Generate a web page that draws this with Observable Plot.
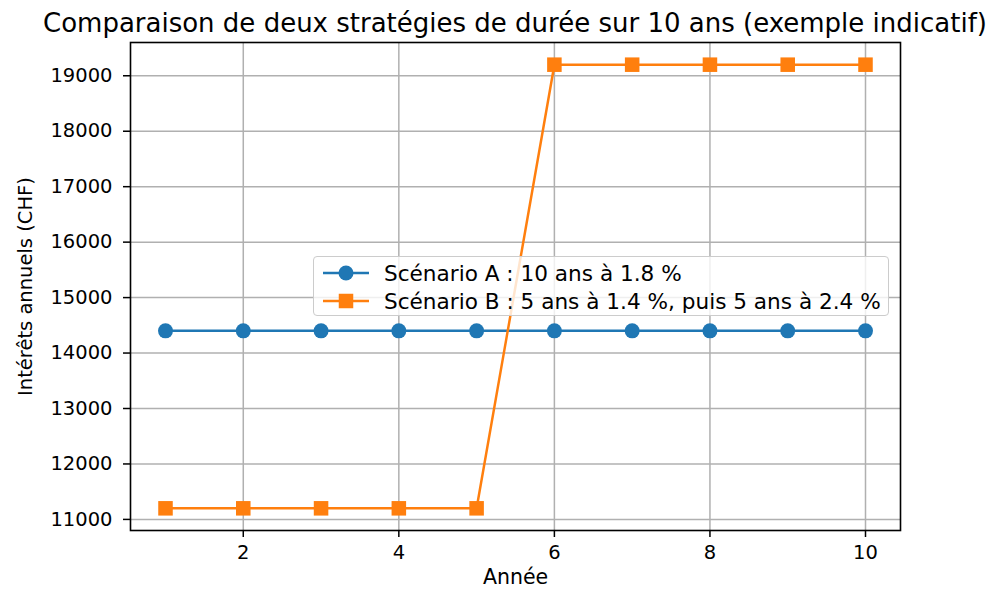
<!DOCTYPE html>
<html>
<head>
<meta charset="utf-8">
<script src="https://cdn.jsdelivr.net/npm/d3@7"></script>
<script src="https://cdn.jsdelivr.net/npm/@observablehq/plot@0.6"></script>
<style>
  html, body { margin: 0; padding: 0; background: white; }
  #wrap { position: relative; width: 1000px; height: 600px; font-family: "DejaVu Sans", sans-serif; color: black; }
  #title { box-sizing: border-box; height: 36px; padding-top: 8px; font-size: 26px; line-height: normal; text-align: center; width: 1030px; white-space: nowrap; overflow: visible; }
  #chart svg { display: block; }
  #legend { position: absolute; left: 313px; top: 256px; width: 576px; height: 60px; box-sizing: border-box;
            background: rgba(255,255,255,0.8); border: 1px solid #cccccc; border-radius: 4px; font-size: 21.6px; }
  .row { position: absolute; left: 8px; height: 28px; display: flex; align-items: center; white-space: nowrap; }
  .row svg { margin-right: 14px; }
</style>
</head>
<body>
<div id="wrap">
  <div id="title">Comparaison de deux stratégies de durée sur 10 ans (exemple indicatif)</div>
  <div id="chart"></div>
  <div id="legend"></div>
</div>
<script>
const years = [1, 2, 3, 4, 5, 6, 7, 8, 9, 10];
const scenarioA = [14400, 14400, 14400, 14400, 14400, 14400, 14400, 14400, 14400, 14400];
const scenarioB = [11200, 11200, 11200, 11200, 11200, 19200, 19200, 19200, 19200, 19200];
const xTicks = [2, 4, 6, 8, 10];
const yTicks = [11000, 12000, 13000, 14000, 15000, 16000, 17000, 18000, 19000];
const seriesNames = ["Scénario A : 10 ans à 1.8 %", "Scénario B : 5 ans à 1.4 %, puis 5 ans à 2.4 %"];
const colors = ["#1f77b4", "#ff7f0e"];
const xLabel = "Année";
const yLabel = "Intérêts annuels (CHF)";

const dataA = years.map((x, i) => ({x, y: scenarioA[i]}));
const dataB = years.map((x, i) => ({x, y: scenarioB[i]}));

const chart = Plot.plot({
  width: 1000,
  height: 564,
  marginTop: 6,
  marginBottom: 70,
  marginLeft: 130,
  marginRight: 100,
  style: {fontFamily: "DejaVu Sans", fontSize: "19px", color: "black", background: "white"},
  x: {domain: [0.55, 10.45]},
  y: {domain: [10800, 19600]},
  marks: [
    Plot.gridX(xTicks, {stroke: "#b0b0b0", strokeOpacity: 1, strokeWidth: 1.5}),
    Plot.gridY(yTicks, {stroke: "#b0b0b0", strokeOpacity: 1, strokeWidth: 1.5}),
    Plot.axisX(xTicks, {tickSize: 7, tickPadding: 8, strokeWidth: 1.5, label: null, fontSize: 19.5}),
    Plot.axisY(yTicks, {tickSize: 7, tickPadding: 11, strokeWidth: 1.5, label: null, fontSize: 19.5, tickFormat: d => String(d)}),
    Plot.line(dataA, {x: "x", y: "y", stroke: colors[0], strokeWidth: 2.5}),
    Plot.dot(dataA, {x: "x", y: "y", r: 7.5, fill: colors[0], stroke: "none"}),
    Plot.line(dataB, {x: "x", y: "y", stroke: colors[1], strokeWidth: 2.5}),
    Plot.dot(dataB, {x: "x", y: "y", r: 8.2, symbol: "square", fill: colors[1], stroke: "none"}),
    Plot.frame({stroke: "black", strokeWidth: 1.6}),
    Plot.text([xLabel], {text: d => d, frameAnchor: "bottom", textAnchor: "middle", dy: 39, lineAnchor: "top", fontSize: 20.5}),
    Plot.text([yLabel], {text: d => d, frameAnchor: "left", textAnchor: "middle", lineAnchor: "middle", dx: -105, rotate: -90, fontSize: 19.5})
  ]
});
document.getElementById("chart").appendChild(chart);

// Legend
const legend = document.getElementById("legend");
seriesNames.forEach((name, i) => {
  const row = document.createElement("div");
  row.className = "row";
  row.style.top = (i === 0 ? 2 : 30) + "px";
  const ns = "http://www.w3.org/2000/svg";
  const sw = document.createElementNS(ns, "svg");
  sw.setAttribute("width", 48);
  sw.setAttribute("height", 20);
  const ln = document.createElementNS(ns, "line");
  ln.setAttribute("x1", 1); ln.setAttribute("x2", 47);
  ln.setAttribute("y1", 10); ln.setAttribute("y2", 10);
  ln.setAttribute("stroke", colors[i]); ln.setAttribute("stroke-width", 2.5);
  sw.appendChild(ln);
  let mk;
  if (i === 0) {
    mk = document.createElementNS(ns, "circle");
    mk.setAttribute("cx", 24); mk.setAttribute("cy", 10); mk.setAttribute("r", 7.5);
  } else {
    mk = document.createElementNS(ns, "rect");
    mk.setAttribute("x", 24 - 7.25); mk.setAttribute("y", 10 - 7.25);
    mk.setAttribute("width", 14.5); mk.setAttribute("height", 14.5);
  }
  mk.setAttribute("fill", colors[i]);
  sw.appendChild(mk);
  row.appendChild(sw);
  const t = document.createElement("span");
  t.textContent = name;
  row.appendChild(t);
  legend.appendChild(row);
});
</script>
</body>
</html>
